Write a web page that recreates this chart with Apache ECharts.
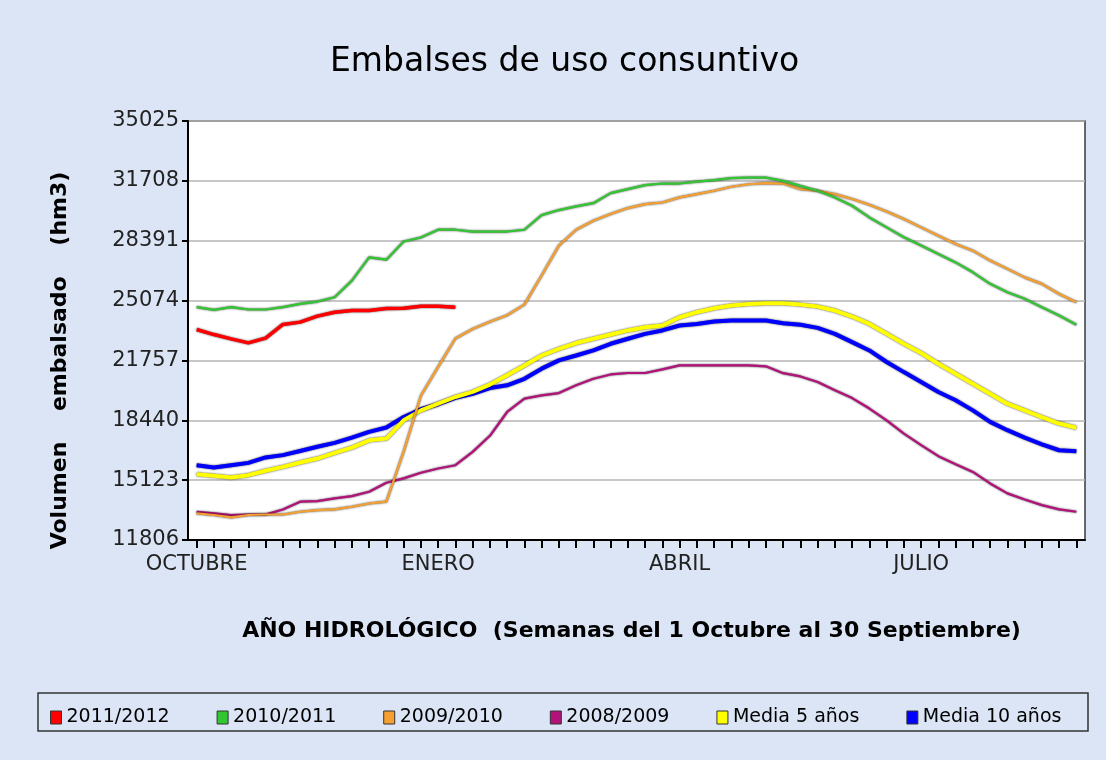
<!DOCTYPE html>
<html>
<head>
<meta charset="utf-8">
<script src="https://cdn.jsdelivr.net/npm/echarts@6/dist/echarts.min.js"></script>
<style>
  html, body { margin: 0; padding: 0; background: #dbe5f5; }
  #chart { width: 1106px; height: 760px; }
</style>
</head>
<body>
<div id="chart"></div>
<script>
// semanas del año hidrológico (52), solo algunas con nombre de mes
let semanas = [];
for (let i = 0; i < 52; i++) semanas.push('');
semanas[0] = 'OCTUBRE';
semanas[14] = 'ENERO';
semanas[28] = 'ABRIL';
semanas[42] = 'JULIO';

let ticksY = [11806, 15123, 18440, 21757, 25074, 28391, 31708, 35025];

let s2011_2012 = [23470, 23190, 22950, 22730, 22990, 23750, 23880, 24210, 24430, 24520, 24520, 24630, 24650, 24760, 24760, 24710];

let s2010_2011 = [24710, 24560, 24710, 24580, 24580, 24710, 24890, 25020, 25260, 26180, 27470, 27340, 28350, 28570, 29000, 29000,
    28890, 28900, 28900, 29000, 29810, 30090, 30290, 30470, 31030, 31250, 31470, 31560, 31560, 31670, 31750, 31860,
    31890, 31890, 31710, 31430, 31160, 30790, 30330, 29680, 29130, 28580, 28120, 27650, 27190, 26640, 26000, 25540,
    25170, 24710, 24250, 23730];

let s2009_2010 = [13280, 13190, 13060, 13190, 13220, 13220, 13370, 13460, 13500, 13650, 13830, 13930, 16700, 19800, 21400, 22970,
    23500, 23900, 24260, 24850, 26460, 28120, 29000, 29500, 29870, 30200, 30420, 30510, 30790, 30970, 31160, 31380,
    31520, 31580, 31560, 31250, 31160, 30970, 30700, 30380, 30010, 29590, 29130, 28670, 28210, 27840, 27290, 26830,
    26360, 26000, 25440, 24980];

let s2008_2009 = [13370, 13280, 13190, 13220, 13220, 13500, 13930, 13960, 14110, 14240, 14480, 14980, 15220, 15530, 15770, 15950,
    16690, 17580, 18900, 19640, 19820, 19950, 20380, 20740, 20980, 21060, 21060, 21260, 21480, 21480, 21480, 21480,
    21480, 21430, 21050, 20870, 20560, 20100, 19670, 19090, 18440, 17700, 17060, 16450, 16010, 15580, 14940, 14390,
    14050, 13740, 13500, 13370];

let media5 = [15450, 15360, 15270, 15400, 15640, 15860, 16100, 16320, 16630, 16930, 17330, 17430, 18440, 18990, 19360, 19730,
    20010, 20420, 20930, 21480, 22030, 22400, 22720, 22960, 23190, 23420, 23600, 23690, 24150, 24430, 24650, 24800,
    24890, 24930, 24930, 24850, 24740, 24520, 24190, 23780, 23230, 22680, 22170, 21570, 21020, 20470, 19910, 19360,
    18990, 18620, 18260, 18030];

let media10 = [15950, 15820, 15950, 16080, 16380, 16510, 16740, 16970, 17190, 17480, 17800, 18040, 18620, 19050, 19330, 19680,
    19910, 20230, 20380, 20740, 21300, 21760, 22030, 22310, 22680, 22960, 23230, 23420, 23690, 23780, 23910, 23970,
    23970, 23970, 23820, 23730, 23560, 23230, 22770, 22310, 21670, 21110, 20560, 20010, 19550, 18990, 18350, 17890,
    17480, 17110, 16780, 16730];

let nombres = ['2011/2012', '2010/2011', '2009/2010', '2008/2009', 'Media 5 años', 'Media 10 años'];
let colores = ['#ff0000', '#33c633', '#f5a030', '#b3127a', '#ffff00', '#0000ff'];
let datos = [s2011_2012, s2010_2011, s2009_2010, s2008_2009, media5, media10];
let grosor = [3.5, 2.2, 2.2, 2.2, 4, 4];

let chart = echarts.init(document.getElementById('chart'));

let series = datos.map(function(d, i) {
    return {
        name: nombres[i],
        type: 'line',
        data: d,
        symbol: 'none',
        z: 10 - i,
        lineStyle: {
            width: grosor[i],
            color: colores[i],
            shadowColor: 'rgba(0,0,0,0.75)',
            shadowBlur: 2
        },
        itemStyle: { color: colores[i] }
    };
});

let option = {
    backgroundColor: '#dbe5f5',
    animation: false,
    textStyle: { fontFamily: 'DejaVu Sans' },
    title: {
        text: 'Embalses de uso consuntivo',
        left: 325,
        top: 41,
        textStyle: { fontFamily: 'DejaVu Sans', fontSize: 33, fontWeight: 'normal', color: '#000' }
    },
    // recuadro de la leyenda
    graphic: [{
        type: 'rect',
        shape: { x: 38, y: 693, width: 1050, height: 38 },
        style: { fill: 'none', stroke: '#333', lineWidth: 1.5 }
    }],
    legend: {
        data: nombres,
        left: 45,
        top: 703,
        icon: 'rect',
        itemWidth: 11,
        itemHeight: 13,
        itemGap: 47,
        itemStyle: { borderColor: '#333', borderWidth: 1 },
        textStyle: { fontFamily: 'DejaVu Sans', fontSize: 19, color: '#000' }
    },
    color: colores,
    grid: {
        left: 188,
        right: 21,
        top: 121,
        bottom: 220,
        show: true,
        backgroundColor: '#ffffff',
        borderColor: '#3a3a3a',
        borderWidth: 1.5
    },
    xAxis: {
        type: 'category',
        data: semanas,
        boundaryGap: true,
        name: 'AÑO HIDROLÓGICO  (Semanas del 1 Octubre al 30 Septiembre)',
        nameLocation: 'middle',
        nameGap: 80,
        nameTextStyle: { fontFamily: 'DejaVu Sans', fontSize: 22, fontWeight: 'bold', color: '#000', padding: [0, 10, 0, 0] },
        axisLine: { lineStyle: { color: '#000', width: 2 } },
        axisTick: { show: true, alignWithLabel: true, interval: 0, length: 8,
            lineStyle: { color: '#000', width: 2 } },
        axisLabel: { interval: 0, margin: 14, fontSize: 21, color: '#222', fontFamily: 'DejaVu Sans' },
        splitLine: { show: false }
    },
    yAxis: {
        type: 'value',
        min: 11806,
        max: 35025,
        name: 'Volumen    embalsado    (hm3)',
        nameLocation: 'middle',
        nameGap: 117,
        nameRotate: 90,
        nameTextStyle: { fontFamily: 'DejaVu Sans', fontSize: 22, fontWeight: 'bold', color: '#000', padding: [0, 60, 0, 0] },
        axisLine: { show: true, lineStyle: { color: '#000', width: 2 } },
        axisTick: { show: true, customValues: ticksY, length: 6, lineStyle: { color: '#000', width: 2 } },
        axisLabel: { customValues: ticksY, margin: 9, fontSize: 21, color: '#222', fontFamily: 'DejaVu Sans',
            formatter: function(v) { return String(v); } },
        splitLine: { show: true, lineStyle: { color: '#b4b4b4', width: 1.5 } }
    },
    series: series
};

chart.setOption(option);
</script>
</body>
</html>
